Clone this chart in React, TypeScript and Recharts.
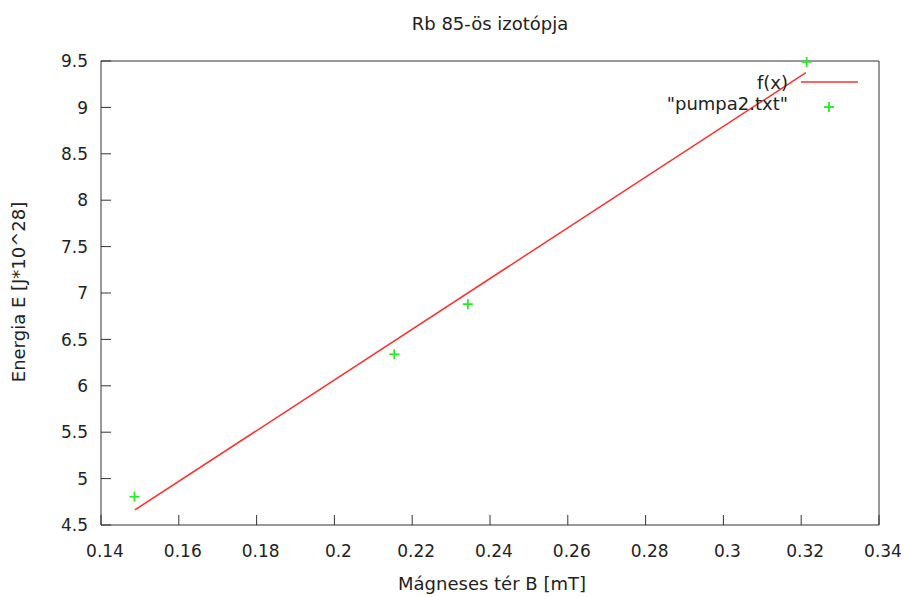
import { ComposedChart, Line, Scatter, XAxis, YAxis } from "recharts"

const pumpX = [0.1486, 0.2154, 0.2343, 0.3214]
const pumpY = [4.805, 6.34, 6.88, 9.49]
const fitX = [0.1487, 0.3212]
const fitY = [4.662, 9.374]
const xTicks = [0.14, 0.16, 0.18, 0.2, 0.22, 0.24, 0.26, 0.28, 0.3, 0.32, 0.34]
const yTicks = [4.5, 5, 5.5, 6, 6.5, 7, 7.5, 8, 8.5, 9, 9.5]

const points = pumpX.map((x, i) => ({ x, y: pumpY[i] }))
const fit = fitX.map((x, i) => ({ x, y: fitY[i] }))

const FONT = "DejaVu Sans"
const INK = "#333"
const TXT = "#222"
const GREEN = "#22ee22"
const RED = "#ff3030"

function BottomTick({ x, y, payload }: any) {
  return (
    <g>
      <line x1={x} y1={y} x2={x} y2={y - 10} stroke={INK} />
      <text x={x + 4} y={y + 32} textAnchor="middle" fontFamily={FONT} fontSize={17} fill={TXT}>
        {payload.value}
      </text>
    </g>
  )
}

function TopTick({ x, y }: any) {
  return <line x1={x} y1={y} x2={x} y2={y + 10} stroke={INK} />
}

function LeftTick({ x, y, payload }: any) {
  return (
    <g>
      <line x1={x} y1={y} x2={x + 10} y2={y} stroke={INK} />
      <text x={x - 13} y={y} dy="0.36em" textAnchor="end" fontFamily={FONT} fontSize={17} fill={TXT}>
        {payload.value}
      </text>
    </g>
  )
}

function RightTick({ x, y }: any) {
  return <line x1={x} y1={y} x2={x - 10} y2={y} stroke={INK} />
}

function Plus({ cx, cy }: any) {
  return (
    <g stroke={GREEN} strokeWidth={1.8}>
      <line x1={cx - 5} y1={cy} x2={cx + 5} y2={cy} />
      <line x1={cx} y1={cy - 5} x2={cx} y2={cy + 5} />
    </g>
  )
}

export default function App() {
  return (
    <div style={{ position: "absolute", left: 0, top: 0, width: 905, height: 597, background: "#fff" }}>
      <ComposedChart width={905} height={597} margin={{ top: 60, right: 25, bottom: 42, left: 41 }}>
        <XAxis
          xAxisId={0}
          type="number"
          dataKey="x"
          domain={[0.14, 0.34]}
          ticks={xTicks}
          interval={0}
          height={30}
          tickSize={0}
          tickMargin={0}
          tickLine={false}
          tick={<BottomTick />}
          axisLine={{ stroke: INK }}
        />
        <XAxis
          xAxisId="top"
          orientation="top"
          type="number"
          dataKey="x"
          domain={[0.14, 0.34]}
          ticks={xTicks}
          interval={0}
          height={1}
          tickSize={0}
          tickMargin={0}
          tickLine={false}
          tick={<TopTick />}
          axisLine={{ stroke: INK }}
        />
        <YAxis
          yAxisId={0}
          type="number"
          dataKey="y"
          domain={[4.5, 9.5]}
          ticks={yTicks}
          interval={0}
          width={60}
          tickSize={0}
          tickMargin={0}
          tickLine={false}
          tick={<LeftTick />}
          axisLine={{ stroke: INK }}
        />
        <YAxis
          yAxisId="right"
          orientation="right"
          type="number"
          dataKey="y"
          domain={[4.5, 9.5]}
          ticks={yTicks}
          interval={0}
          width={1}
          tickSize={0}
          tickMargin={0}
          tickLine={false}
          tick={<RightTick />}
          axisLine={{ stroke: INK }}
        />
        <Line
          data={fit}
          dataKey="y"
          stroke={RED}
          strokeWidth={1.5}
          dot={false}
          activeDot={false}
          isAnimationActive={false}
        />
        <Scatter data={points} dataKey="y" shape={<Plus />} isAnimationActive={false} />
      </ComposedChart>
      <svg
        width={905}
        height={597}
        style={{ position: "absolute", left: 0, top: 0, pointerEvents: "none" }}
        fontFamily={FONT}
        fontSize={18}
        fill={TXT}
      >
        <text x={490} y={30} textAnchor="middle">Rb 85-ös izotópja</text>
        <text x={492} y={590} textAnchor="middle">Mágneses tér B [mT]</text>
        <text transform="translate(25,292) rotate(-90)" textAnchor="middle">Energia E [J*10^28]</text>
        <text x={788} y={89} textAnchor="end">f(x)</text>
        <line x1={801} y1={82} x2={858} y2={82} stroke={RED} strokeWidth={1.5} />
        <text x={788} y={110} textAnchor="end">"pumpa2.txt"</text>
        <Plus cx={829} cy={107} />
      </svg>
    </div>
  )
}
